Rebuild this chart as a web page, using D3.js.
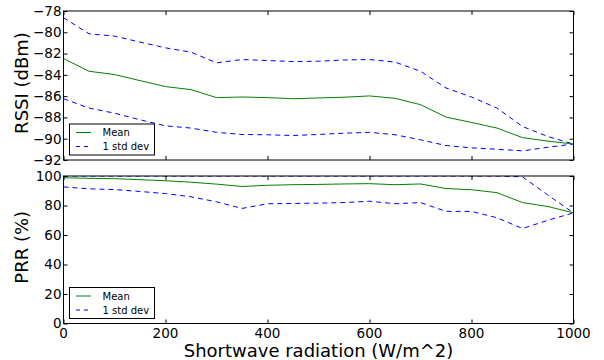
<!DOCTYPE html>
<html>
<head>
<meta charset="utf-8">
<script src="https://cdn.jsdelivr.net/npm/d3@7"></script>
<style>
  html, body { margin: 0; padding: 0; background: #fff; }
  svg { display: block; font-family: "DejaVu Sans", sans-serif; }
</style>
</head>
<body>
<svg id="chart" width="604" height="360"></svg>
<script>
// Shortwave radiation bins (W/m^2)
const radiation = [0, 50, 100, 150, 200, 250, 300, 350, 400, 450, 500,
                   550, 600, 650, 700, 750, 800, 850, 900, 950, 1000];

// RSSI (dBm): mean and mean ± 1 std dev
const rssiMean  = [-82.47, -83.66, -83.97, -84.54, -85.1, -85.39, -86.14, -86.08, -86.14, -86.24, -86.17,
                   -86.1, -85.98, -86.2, -86.8, -87.97, -88.47, -89.0, -89.9, -90.23, -90.5];
const rssiUpper = [-78.63, -80.14, -80.36, -80.92, -81.46, -81.87, -82.87, -82.56, -82.65, -82.75, -82.72,
                   -82.6, -82.56, -82.8, -83.66, -85.23, -86.08, -87.12, -88.85, -89.8, -90.5];
const rssiLower = [-86.24, -87.12, -87.6, -88.22, -88.79, -89.0, -89.4, -89.6, -89.63, -89.7, -89.6,
                   -89.48, -89.4, -89.63, -90.1, -90.64, -90.86, -90.99, -91.14, -90.8, -90.5];

// PRR (%): mean and mean ± 1 std dev (upper capped at 100)
const prrMean  = [98.8, 98.4, 98.2, 97.5, 96.8, 95.8, 94.5, 92.9, 93.7, 94.1, 94.3,
                  94.6, 94.8, 94.1, 94.6, 91.5, 90.7, 88.7, 82.0, 79.3, 75.0];
const prrUpper = [100, 100, 100, 100, 100, 100, 100, 100, 100, 100, 100,
                  100, 100, 100, 100, 100, 100, 100, 99.4, 87.0, 75.0];
const prrLower = [92.6, 91.3, 90.8, 89.5, 88.1, 85.9, 82.5, 78.0, 81.2, 81.4, 81.6,
                  82.0, 82.9, 81.2, 82.0, 76.0, 76.0, 71.7, 64.4, 70.0, 75.0];

const xTicks = [0, 200, 400, 600, 800, 1000];
const rssiTicks = [-78, -80, -82, -84, -86, -88, -90, -92];
const prrTicks = [0, 20, 40, 60, 80, 100];
const legendLabels = ["Mean", "1 std dev"];

const svg = d3.select("#chart");
svg.append("rect").attr("width", 604).attr("height", 360).attr("fill", "#fff");

const left = 63.5, right = 573.5;
const x = d3.scaleLinear().domain([0, 1000]).range([left, right]);

const panels = [
  { top: 11, bottom: 160, domain: [-92, -78], ticks: rssiTicks, label: "RSSI (dBm)",
    mean: rssiMean, upper: rssiUpper, lower: rssiLower, xLabels: false },
  { top: 176, bottom: 323.5, domain: [0, 100], ticks: prrTicks, label: "PRR (%)",
    mean: prrMean, upper: prrUpper, lower: prrLower, xLabels: true }
];

const fmt = v => (v < 0 ? "\u2212" + Math.abs(v) : String(v));
const tickLen = 4;

panels.forEach((p, i) => {
  const y = d3.scaleLinear().domain(p.domain).range([p.bottom, p.top]);
  const g = svg.append("g");

  const clipId = "clip" + i;
  svg.append("clipPath").attr("id", clipId)
    .append("rect").attr("x", left).attr("y", p.top)
    .attr("width", right - left).attr("height", p.bottom - p.top);

  const line = d3.line().x((d, j) => x(radiation[j])).y(d => y(d));
  const plot = g.append("g").attr("clip-path", `url(#${clipId})`);

  plot.append("path").datum(p.upper).attr("d", line)
    .attr("fill", "none").attr("stroke", "#0000ff").attr("stroke-width", 1)
    .attr("stroke-dasharray", "5,4");
  plot.append("path").datum(p.lower).attr("d", line)
    .attr("fill", "none").attr("stroke", "#0000ff").attr("stroke-width", 1)
    .attr("stroke-dasharray", "5,4");
  plot.append("path").datum(p.mean).attr("d", line)
    .attr("fill", "none").attr("stroke", "#008000").attr("stroke-width", 1);

  // Inward ticks on all four sides
  const axL = d3.axisRight(y).tickValues(p.ticks).tickSize(tickLen).tickFormat("");
  const axR = d3.axisLeft(y).tickValues(p.ticks).tickSize(tickLen).tickFormat("");
  const axT = d3.axisBottom(x).tickValues(xTicks).tickSize(tickLen).tickFormat("");
  const axB = d3.axisTop(x).tickValues(xTicks).tickSize(tickLen).tickFormat("");
  [[axL, `translate(${left},0)`], [axR, `translate(${right},0)`],
   [axT, `translate(0,${p.top})`], [axB, `translate(0,${p.bottom})`]].forEach(([ax, tr]) => {
    const a = g.append("g").attr("transform", tr).call(ax);
    a.select(".domain").remove();
    a.selectAll("line").attr("stroke", "#000").attr("stroke-width", 1);
  });

  // Frame
  g.append("rect").attr("x", left).attr("y", p.top)
    .attr("width", right - left).attr("height", p.bottom - p.top)
    .attr("fill", "none").attr("stroke", "#000").attr("stroke-width", 1);

  // Y tick labels
  g.selectAll(".ylab").data(p.ticks).join("text")
    .attr("x", left - 2).attr("y", d => y(d))
    .attr("dy", "0.36em").attr("text-anchor", "end")
    .attr("font-size", 13.5).attr("fill", "#000")
    .text(fmt);

  // Y axis label
  const cy = (p.top + p.bottom) / 2 - 2.5;
  g.append("text")
    .attr("transform", `translate(28,${cy}) rotate(-90)`)
    .attr("text-anchor", "middle").attr("font-size", 18).attr("fill", "#000")
    .text(p.label);

  if (p.xLabels) {
    g.selectAll(".xlab").data(xTicks).join("text")
      .attr("x", d => x(d)).attr("y", p.bottom + 14)
      .attr("text-anchor", "middle").attr("font-size", 13.5).attr("fill", "#000")
      .text(d => d);
  }

  // Legend
  const lg = g.append("g").attr("transform", `translate(69.5,${p.bottom - 36})`);
  lg.append("rect").attr("width", 85).attr("height", 31)
    .attr("fill", "#fff").attr("stroke", "#000").attr("stroke-width", 1);
  const styles = [{ c: "#008000", dash: null }, { c: "#0000ff", dash: "4,4" }];
  legendLabels.forEach((lab, k) => {
    const ly = 8.5 + k * 14;
    lg.append("line").attr("x1", 6.5).attr("x2", 21.5).attr("y1", ly).attr("y2", ly)
      .attr("stroke", styles[k].c).attr("stroke-width", 1)
      .attr("stroke-dasharray", styles[k].dash);
    lg.append("text").attr("x", 33).attr("y", ly).attr("dy", "0.36em")
      .attr("font-size", 10).attr("fill", "#000").text(lab);
  });
});

svg.append("text")
  .attr("x", (left + right) / 2).attr("y", 357)
  .attr("text-anchor", "middle").attr("font-size", 18).attr("fill", "#000")
  .text("Shortwave radiation (W/m^2)");
</script>
</body>
</html>
